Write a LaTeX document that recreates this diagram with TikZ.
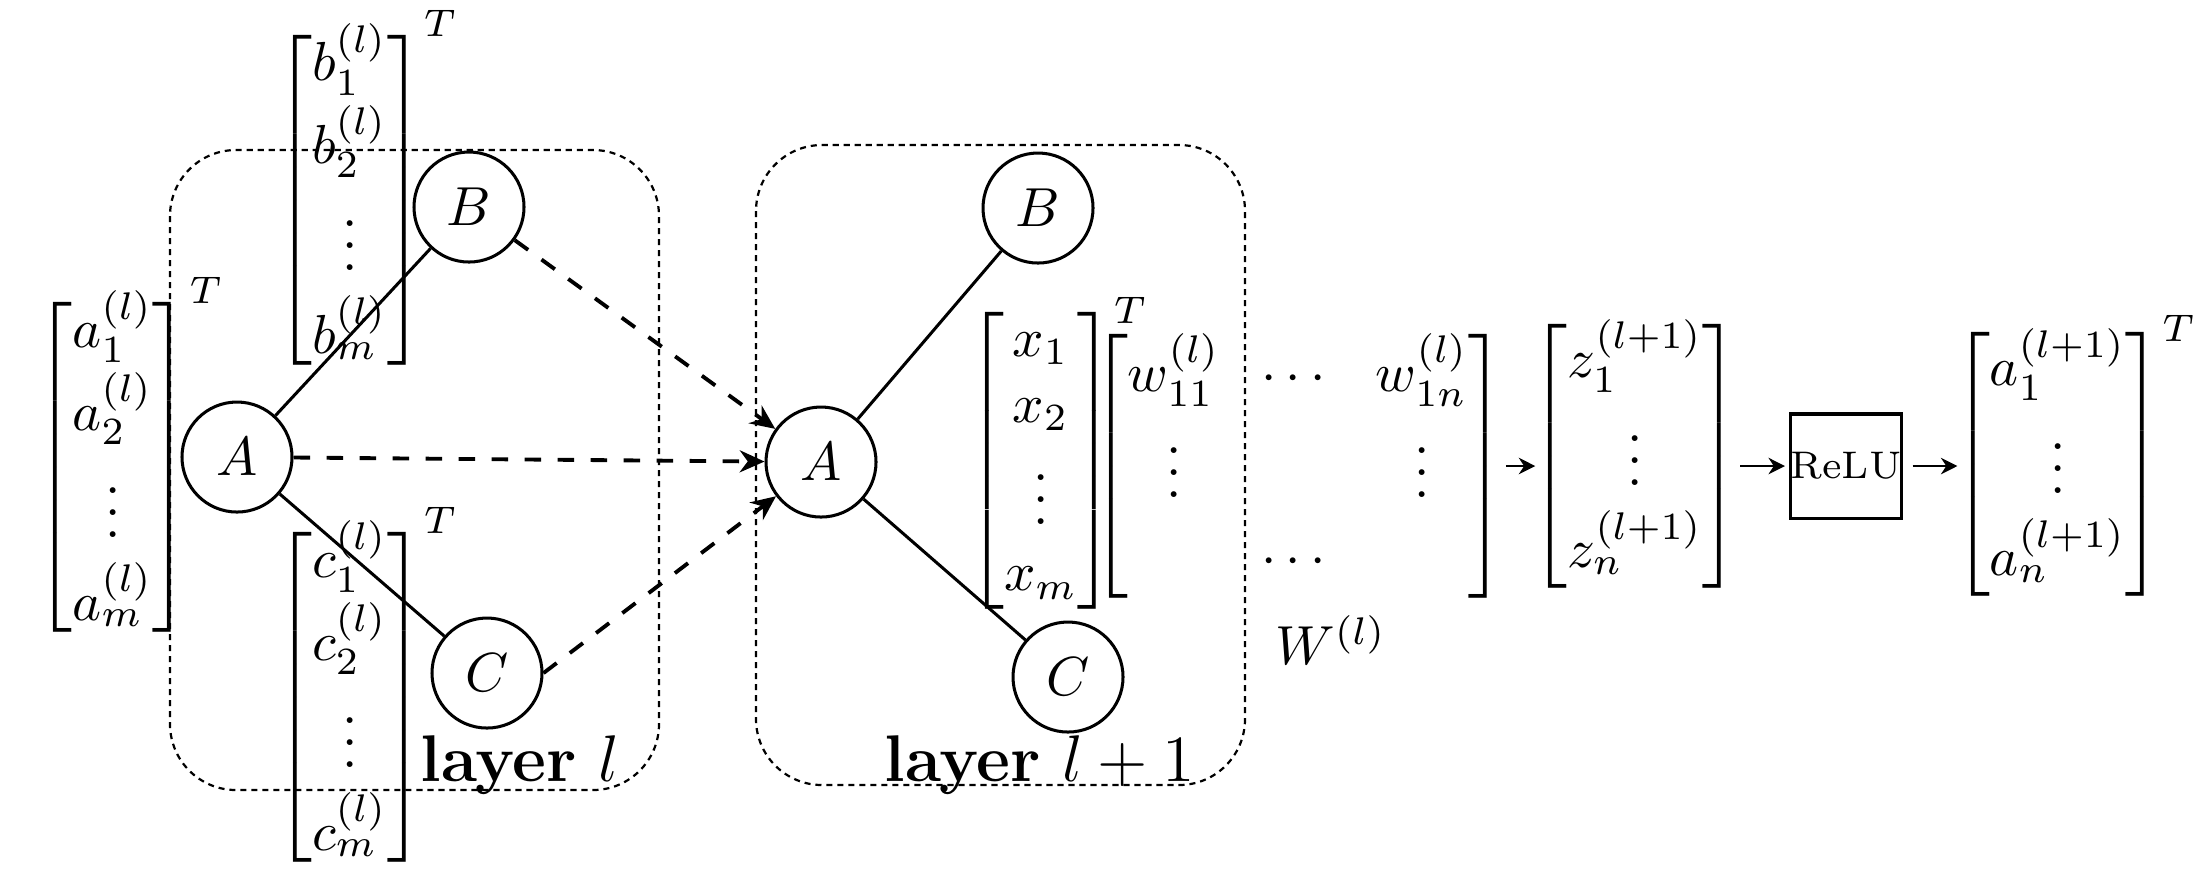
\documentclass[tikz,border=0pt]{standalone}
\usepackage{amsmath,amssymb}
\usetikzlibrary{arrows.meta,positioning}
\tikzset{
  neuron/.style   = {circle, draw, line width=0.55pt, minimum size=20pt, inner sep=0pt},
  vecnode/.style  = {inner sep=0pt, execute at begin node={\def\arraystretch{#1}}},
  vecnode/.default= 1.25,
  relubox/.style  = {draw, line width=0.65pt, minimum size=19pt, inner sep=0pt, outer sep=2pt, font=\scriptsize},
  layerbox/.style = {rounded corners=12pt, line width=0.4pt, dash pattern=on 1.1pt off 0.9pt},
  layerlab/.style = {font=\large, anchor=base},
  link/.style     = {line width=0.55pt},
  flow/.style     = {-{Stealth[length=3pt,width=3pt]}, line width=0.4pt, shorten >=-1pt},
  flowdash/.style = {-{Stealth[length=4.5pt,width=4pt]}, dashed, line width=0.7pt},
}

\begin{document}
\begin{tikzpicture}[x=0.1818pt,y=-0.1818pt]
  \useasboundingbox (0,0) rectangle (2194,876);

  % layer l
  \draw[layerbox] (170,150) rectangle (659,790);
  \node[vecnode] (amat) at (130,461) {$\begin{bmatrix} a_1^{(l)}\\ a_2^{(l)}\\ \vdots\\ a_m^{(l)} \end{bmatrix}^T$};
  \node[vecnode] (bmat) at (367,194) {$\begin{bmatrix} b_1^{(l)}\\ b_2^{(l)}\\ \vdots\\ b_m^{(l)} \end{bmatrix}^T$};
  \node[vecnode] (cmat) at (367,691) {$\begin{bmatrix} c_1^{(l)}\\ c_2^{(l)}\\ \vdots\\ c_m^{(l)} \end{bmatrix}^T$};
  \node[neuron] (Al) at (237,457) {$A$};
  \node[neuron] (Bl) at (469,207) {$B$};
  \node[neuron] (Cl) at (487,673) {$C$};
  \draw[link] (Al) -- (Bl);
  \draw[link] (Al) -- (Cl);
  \node[layerlab] (labl) at (520,781) {\textbf{layer} $l$};

  % layer l+1
  \draw[layerbox] (756,145) rectangle (1245,785);
  \node[neuron] (Ap) at (821,462) {$A$};
  \node[neuron] (Bp) at (1038,208) {$B$};
  \node[neuron] (Cp) at (1068,677) {$C$};
  \draw[link] (Ap) -- (Bp);
  \draw[link] (Ap) -- (Cp);
  \node[vecnode=1.0] (xmat) at (1058,454) {$\begin{bmatrix} x_1\\ x_2\\ \vdots\\ x_m \end{bmatrix}^T$};
  \node[layerlab] (labp) at (1040,781) {\textbf{layer} $l+1$};

  % from layer l to layer l+1
  \draw[flowdash] (Bl) -- (Ap);
  \draw[flowdash] (Al) -- (Ap);
  \draw[flowdash] (Cl.east) -- (Ap);

  % weights, activation, output
  \node[vecnode=1.17, execute at begin node={\setlength\arraycolsep{3.75pt}}] (Wmat) at (1298,466)
    {$\begin{bmatrix} w_{11}^{(l)} & \cdots & w_{1n}^{(l)}\\ \vdots & & \vdots\\ & \cdots & \end{bmatrix}$};
  \node (Wlab) at (1331,640) {$W^{(l)}$};
  \node[vecnode] (zmat) at (1635,456) {$\begin{bmatrix} z_1^{(l+1)}\\ \vdots\\ z_n^{(l+1)} \end{bmatrix}$};
  \node[relubox] (relu) at (1846,466) {ReLU};
  \node[vecnode] (anext) at (2075,458) {$\begin{bmatrix} a_1^{(l+1)}\\ \vdots\\ a_n^{(l+1)} \end{bmatrix}^T$};
  \draw[flow] (Wmat.east |- relu) -- (zmat.west |- relu);
  \draw[flow] (zmat.east |- relu) -- (relu);
  \draw[flow] (relu) -- (anext.west |- relu);
\end{tikzpicture}
\end{document}
